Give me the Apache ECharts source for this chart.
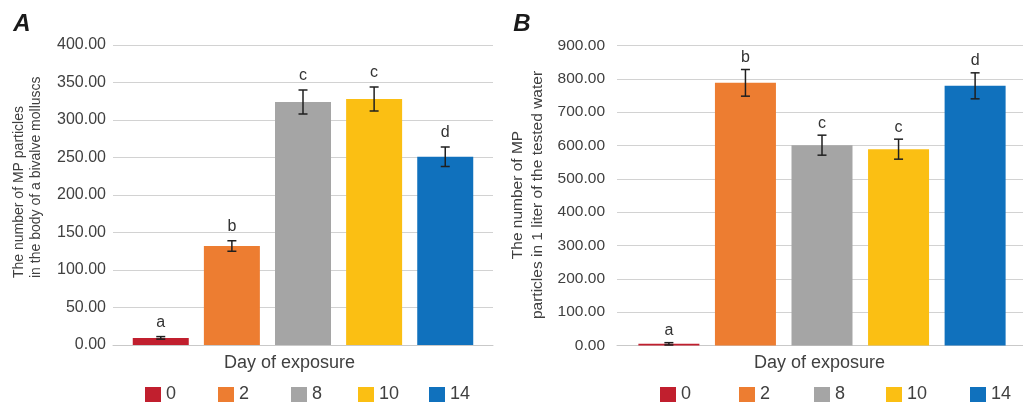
<!DOCTYPE html>
<html>
<head>
<meta charset="utf-8">
<script src="https://cdn.jsdelivr.net/npm/echarts@6/dist/echarts.min.js"></script>
<style>
  html, body { margin: 0; padding: 0; background: #fff; }
  #chart { width: 1023px; height: 403px; }
</style>
</head>
<body>
<div id="chart"></div>
<script>
(function () {
  "use strict";

  // ── Data ──
  var DAYS = ["0", "2", "8", "10", "14"];
  var COLORS = ["#C11F2E", "#ED7D31", "#A5A5A5", "#FBBF13", "#1071BD"];

  // A: MP particles in the body of a bivalve molluscs
  var BODY_MEAN = [9.5, 132, 324, 328, 251];
  var BODY_ERR = [1.7, 7, 16, 16, 13];
  var BODY_LETTERS = ["a", "b", "c", "c", "d"];

  // B: MP particles in 1 liter of the tested water
  var WATER_MEAN = [5, 788, 601, 589, 779];
  var WATER_ERR = [3.5, 40, 30, 30, 39];
  var WATER_LETTERS = ["a", "b", "c", "c", "d"];

  var CATEGORY = ["Day of exposure"];

  var FONT = "'Liberation Sans', Arial, sans-serif";
  var TEXT = "#404040";

  // layout per panel
  var PANELS = [
    {
      mean: BODY_MEAN, err: BODY_ERR, letters: BODY_LETTERS,
      grid: { left: 113, right: 530, top: 45, bottom: 58 },
      max: 400, interval: 50, labelSize: 16, labelMargin: 7,
      barWidth: 56, barGap: 0.27, letterOffset: 14,
      legendLeft: [145, 218, 291, 358, 429]
    },
    {
      mean: WATER_MEAN, err: WATER_ERR, letters: WATER_LETTERS,
      grid: { left: 617, right: -4, top: 45.5, bottom: 57.5 },
      max: 900, interval: 100, labelSize: 15.5, labelMargin: 12,
      barWidth: 61, barGap: 0.255, letterOffset: 12,
      legendLeft: [660, 739, 814, 886, 970]
    }
  ];

  var chart = echarts.init(document.getElementById("chart"), null, { renderer: "canvas" });

  var grids = [], xAxes = [], yAxes = [], series = [], legends = [];

  PANELS.forEach(function (p, g) {
    grids.push({
      left: p.grid.left, right: p.grid.right, top: p.grid.top, bottom: p.grid.bottom,
      containLabel: false, outerBoundsMode: "none"
    });

    xAxes.push({
      type: "category", gridIndex: g, data: CATEGORY,
      axisLine: { show: true, lineStyle: { color: "#c9c9c9", width: 1 } },
      axisTick: { show: false },
      axisLabel: { show: false },
      splitLine: { show: false }
    });

    yAxes.push({
      type: "value", gridIndex: g, min: 0, max: p.max, interval: p.interval,
      axisLine: { show: false },
      axisTick: { show: false },
      axisLabel: {
        color: TEXT, fontFamily: FONT, fontSize: p.labelSize, margin: p.labelMargin,
        formatter: function (v) { return v.toFixed(2); }
      },
      splitLine: { lineStyle: { color: "#d2d2d2", width: 1 } }
    });

    for (var i = 0; i < DAYS.length; i++) {
      series.push({
        type: "bar", name: DAYS[i], xAxisIndex: g, yAxisIndex: g,
        data: [p.mean[i]],
        barWidth: p.barWidth, barGap: (p.barGap * 100) + "%",
        itemStyle: { color: COLORS[i] },
        silent: true
      });
    }

    // error bars + significance letters
    series.push({
      type: "custom", xAxisIndex: g, yAxisIndex: g, z: 5, silent: true,
      data: p.mean.map(function (m, i) { return [0, m, p.err[i], i]; }),
      renderItem: function (params, api) {
        var idx = api.value(3);
        var shift = (idx - 2) * p.barWidth * (1 + p.barGap);
        var m = api.value(1), e = api.value(2);
        var top = api.coord([0, m + e]);
        var bot = api.coord([0, m - e]);
        var x = top[0] + shift;
        var cap = 4.5;
        var ls = { stroke: "#1f1f1f", lineWidth: 1.5 };
        return {
          type: "group",
          children: [
            { type: "line", shape: { x1: x, y1: top[1], x2: x, y2: bot[1] }, style: ls },
            { type: "line", shape: { x1: x - cap, y1: top[1], x2: x + cap, y2: top[1] }, style: ls },
            { type: "line", shape: { x1: x - cap, y1: bot[1], x2: x + cap, y2: bot[1] }, style: ls },
            {
              type: "text",
              x: x, y: top[1] - p.letterOffset,
              style: {
                text: p.letters[idx], fill: "#333", font: "16px " + FONT,
                textAlign: "center", textVerticalAlign: "middle"
              }
            }
          ]
        };
      }
    });

    // one legend per entry so the spacing follows the original slots
    for (var k = 0; k < DAYS.length; k++) {
      legends.push({
        left: p.legendLeft[k], top: 385.5, padding: 0,
        data: [DAYS[k]], selectedMode: false,
        itemWidth: 16, itemHeight: 15, icon: "rect",
        textStyle: { color: TEXT, fontFamily: FONT, fontSize: 18 }
      });
    }
  });

  var graphics = [
    { type: "text", x: 22, y: 24, style: { text: "A", font: "italic bold 24px " + FONT, fill: "#1a1a1a", textAlign: "center", textVerticalAlign: "middle" } },
    { type: "text", x: 522, y: 24, style: { text: "B", font: "italic bold 24px " + FONT, fill: "#1a1a1a", textAlign: "center", textVerticalAlign: "middle" } },
    { type: "text", x: 289.5, y: 363, style: { text: "Day of exposure", font: "18px " + FONT, fill: TEXT, textAlign: "center", textVerticalAlign: "middle" } },
    { type: "text", x: 819.5, y: 363, style: { text: "Day of exposure", font: "18px " + FONT, fill: TEXT, textAlign: "center", textVerticalAlign: "middle" } },
    {
      type: "text", x: 27.5, y: 278, rotation: Math.PI / 2,
      style: {
        text: "The number of MP particles\nin the body of a bivalve molluscs",
        font: "14px " + FONT, lineHeight: 17, fill: TEXT,
        textAlign: "left", textVerticalAlign: "middle"
      }
    },
    {
      type: "text", x: 528, y: 195, rotation: Math.PI / 2,
      style: {
        text: "The number of MP\nparticles in 1 liter of the tested water",
        font: "15.5px " + FONT, lineHeight: 20, fill: TEXT,
        textAlign: "center", textVerticalAlign: "middle"
      }
    }
  ];

  chart.setOption({
    animation: false,
    backgroundColor: "#ffffff",
    grid: grids,
    xAxis: xAxes,
    yAxis: yAxes,
    legend: legends,
    graphic: graphics,
    series: series
  });
})();
</script>
</body>
</html>
